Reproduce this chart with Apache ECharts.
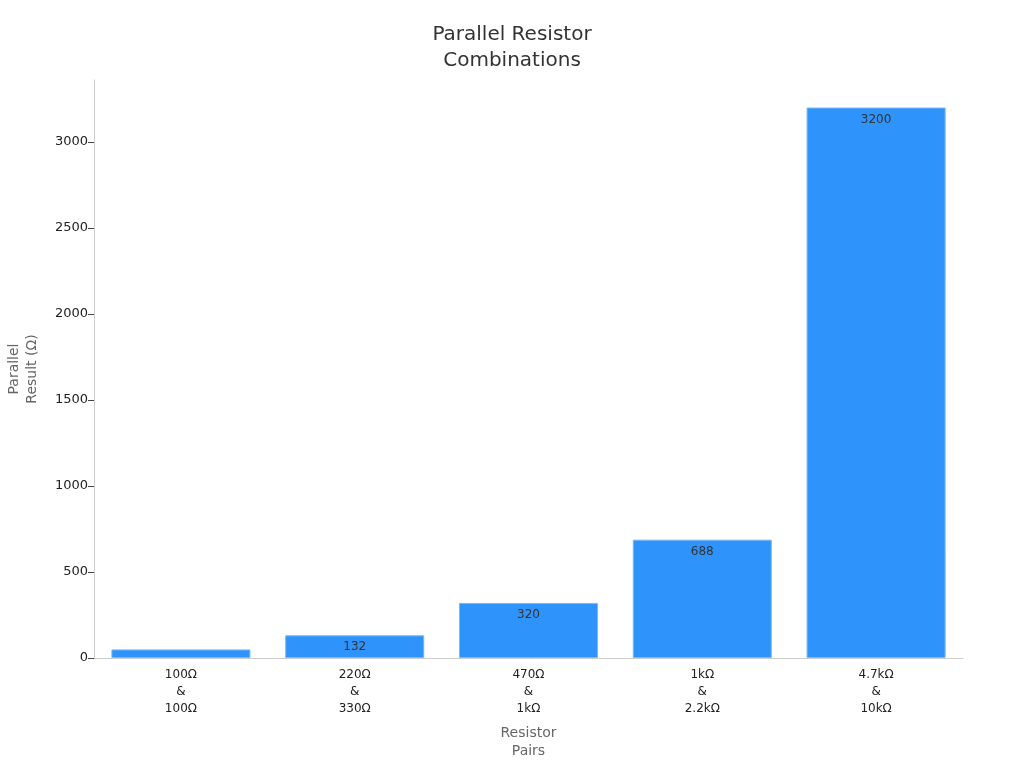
<!DOCTYPE html>
<html>
<head>
<meta charset="utf-8">
<script src="https://cdn.jsdelivr.net/npm/echarts@6/dist/echarts.min.js"></script>
<style>
html,body{margin:0;padding:0;background:#fff;}
#chart{width:1024px;height:768px;}
</style>
</head>
<body>
<div id="chart"></div>
<script>
const categories = ["100Ω\n&\n100Ω", "220Ω\n&\n330Ω", "470Ω\n&\n1kΩ", "1kΩ\n&\n2.2kΩ", "4.7kΩ\n&\n10kΩ"];
const values = [50, 132, 320, 688, 3200];
const labelShown = [false, true, true, true, true];
const yTicks = [0, 500, 1000, 1500, 2000, 2500, 3000];

const chart = echarts.init(document.getElementById('chart'));
const font = 'DejaVu Sans';
chart.setOption({
  backgroundColor: '#fff',
  animation: false,
  title: {
    text: 'Parallel Resistor\nCombinations',
    left: 'center',
    top: 17,
    textStyle: { fontFamily: font, fontSize: 20, fontWeight: 'normal', color: '#333', lineHeight: 26 }
  },
  grid: { left: 94, right: 61, top: 80, bottom: 110, containLabel: false, outerBoundsMode: 'none' },
  xAxis: {
    type: 'category',
    data: categories,
    name: 'Resistor\nPairs',
    nameLocation: 'middle',
    nameGap: 66,
    nameTextStyle: { fontFamily: font, fontSize: 14, color: '#666', lineHeight: 18 },
    axisLine: { lineStyle: { color: '#ccc' } },
    axisTick: { alignWithLabel: true, length: 5, lineStyle: { color: '#444' } },
    axisLabel: { fontFamily: font, fontSize: 12, color: '#222', lineHeight: 17, margin: 8 }
  },
  yAxis: {
    type: 'value',
    min: 0,
    max: 3360,
    interval: 500,
    name: 'Parallel\nResult (Ω)',
    nameLocation: 'middle',
    nameGap: 53,
    nameTextStyle: { fontFamily: font, fontSize: 14, color: '#666', lineHeight: 18 },
    axisLine: { show: true, lineStyle: { color: '#ccc' } },
    axisTick: { show: true, length: 6, lineStyle: { color: '#444' }, customValues: yTicks },
    splitLine: { show: false },
    axisLabel: {
      fontFamily: font, fontSize: 13, color: '#222', margin: 6,
      customValues: yTicks,
      formatter: v => String(v)
    }
  },
  series: [{
    type: 'bar',
    barCategoryGap: '20%',
    data: values.map((v, i) => ({ value: v, label: { show: labelShown[i] } })),
    itemStyle: { color: '#2E93FA', borderColor: '#7ab8f7', borderWidth: 1 },
    label: {
      show: true,
      position: 'insideTop',
      distance: 6,
      fontFamily: font,
      fontSize: 12,
      color: '#333'
    }
  }]
});
</script>
</body>
</html>
